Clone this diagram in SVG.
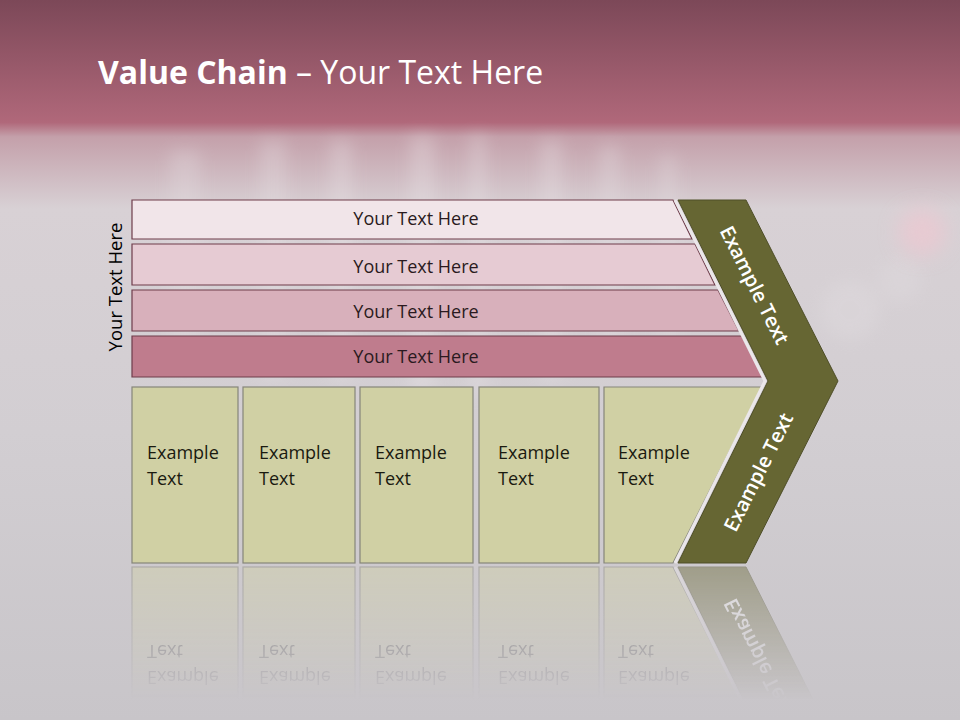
<svg xmlns="http://www.w3.org/2000/svg" xmlns:xlink="http://www.w3.org/1999/xlink" width="960" height="720" viewBox="0 0 960 720">
<defs>
<linearGradient id="bg" x1="0" y1="0" x2="0" y2="720" gradientUnits="userSpaceOnUse">
<stop offset="0" stop-color="#7c4858"/>
<stop offset="0.17" stop-color="#b0687a"/>
<stop offset="0.19" stop-color="#c4a0aa"/>
<stop offset="0.29" stop-color="#d8d1d5"/>
<stop offset="0.6" stop-color="#d2ced2"/>
<stop offset="1" stop-color="#c8c5c9"/>
</linearGradient>
<filter id="blur" x="-20%" y="-20%" width="140%" height="140%"><feGaussianBlur stdDeviation="8"/></filter>
<filter id="blur2" x="-50%" y="-50%" width="200%" height="200%"><feGaussianBlur stdDeviation="10"/></filter>
<linearGradient id="fade" x1="0" y1="564" x2="0" y2="700" gradientUnits="userSpaceOnUse">
<stop offset="0" stop-color="#fff" stop-opacity="0.45"/>
<stop offset="1" stop-color="#fff" stop-opacity="0"/>
</linearGradient>
<mask id="reflMask" maskUnits="userSpaceOnUse" x="0" y="560" width="960" height="160">
<rect x="0" y="560" width="960" height="160" fill="url(#fade)"/>
</mask>
<style>
.bar{stroke:#6e3d4b;stroke-width:1.2}
.bt{font-family:"Open Sans","DejaVu Sans",sans-serif;font-size:18px;fill:#2a1a20;text-anchor:middle}
.box{fill:#d0d0a4;stroke:#85857a;stroke-width:1.2}
.et{font-family:"Open Sans","DejaVu Sans",sans-serif;font-size:18px;fill:#1a1a10}
.chev{fill:#666633;stroke:#4e4e28;stroke-width:1}
.ct{font-family:"Open Sans","DejaVu Sans",sans-serif;font-size:20px;font-weight:600;fill:#ffffff;text-anchor:middle;dominant-baseline:central}
</style>
</defs>

<!-- background -->
<rect x="0" y="0" width="960" height="720" fill="url(#bg)"/>
<g filter="url(#blur)" opacity="0.3">
<rect x="170" y="150" width="30" height="220" fill="#e6e0e3"/>
<rect x="260" y="140" width="26" height="240" fill="#e8e2e5"/>
<rect x="330" y="140" width="22" height="240" fill="#ece6e9"/>
<rect x="410" y="135" width="24" height="260" fill="#eee8eb"/>
<rect x="470" y="135" width="16" height="260" fill="#ece6e9"/>
<rect x="540" y="140" width="22" height="240" fill="#ebe5e8"/>
<rect x="600" y="145" width="20" height="220" fill="#e8e2e5"/>
<rect x="660" y="155" width="16" height="200" fill="#e6e0e3"/>
<circle cx="850" cy="310" r="30" fill="#e4e0e3"/>
<circle cx="900" cy="280" r="22" fill="#e2dee1"/>
</g>
<circle cx="922" cy="232" r="24" fill="#f2c6d0" opacity="0.6" filter="url(#blur2)"/>

<!-- title -->
<text x="98" y="84" font-family="'Open Sans','DejaVu Sans',sans-serif" font-size="32" fill="#ffffff"><tspan font-weight="bold">Value Chain</tspan> – Your Text Here</text>

<!-- vertical label -->
<text transform="translate(122,287) rotate(-90)" font-family="'Open Sans','DejaVu Sans',sans-serif" font-size="18.5" fill="#000000" text-anchor="middle">Your Text Here</text>

<!-- bars -->
<g id="bar1"><path class="bar" fill="#f1e5e9" d="M132,200 L673,200 L692,239 L132,239 Z"/><text class="bt" x="416" y="225">Your Text Here</text></g>
<g id="bar2"><path class="bar" fill="#e6cbd3" d="M132,244 L695,244 L715,285 L132,285 Z"/><text class="bt" x="416" y="273">Your Text Here</text></g>
<g id="bar3"><path class="bar" fill="#d8b0bb" d="M132,290 L718,290 L739,331 L132,331 Z"/><text class="bt" x="416" y="318">Your Text Here</text></g>
<g id="bar4"><path class="bar" fill="#bf7c8d" d="M132,336 L742,336 L763,377 L132,377 Z"/><text class="bt" x="416" y="363">Your Text Here</text></g>

<!-- boxes -->
<g id="boxes">
<g id="box1"><rect class="box" x="132" y="387" width="106" height="176"/><text class="et" x="147" y="459">Example</text><text class="et" x="147" y="485">Text</text></g>
<g id="box2"><rect class="box" x="243" y="387" width="112" height="176"/><text class="et" x="259" y="459">Example</text><text class="et" x="259" y="485">Text</text></g>
<g id="box3"><rect class="box" x="360" y="387" width="113" height="176"/><text class="et" x="375" y="459">Example</text><text class="et" x="375" y="485">Text</text></g>
<g id="box4"><rect class="box" x="479" y="387" width="120" height="176"/><text class="et" x="498" y="459">Example</text><text class="et" x="498" y="485">Text</text></g>
<g id="box5"><path class="box" d="M604,387 L762,387 L673,563 L604,563 Z"/><text class="et" x="618" y="459">Example</text><text class="et" x="618" y="485">Text</text></g>
<g id="chevron">
<path d="M675,200 L765,381 L675,563" fill="none" stroke="#ebe7ea" stroke-width="3"/>
<path class="chev" d="M678,200 L746,200 L838,381 L746,563 L678,563 L768,381 Z"/>
<text class="ct" transform="translate(755,285) rotate(63.4)">Example Text</text>
<text class="ct" transform="translate(758,472) rotate(-63.4)">Example Text</text>
</g>
</g>

<!-- reflection -->
<g id="reflection" mask="url(#reflMask)">
<use xlink:href="#boxes" href="#boxes" transform="translate(0,1130) scale(1,-1)"/>
</g>
</svg>
